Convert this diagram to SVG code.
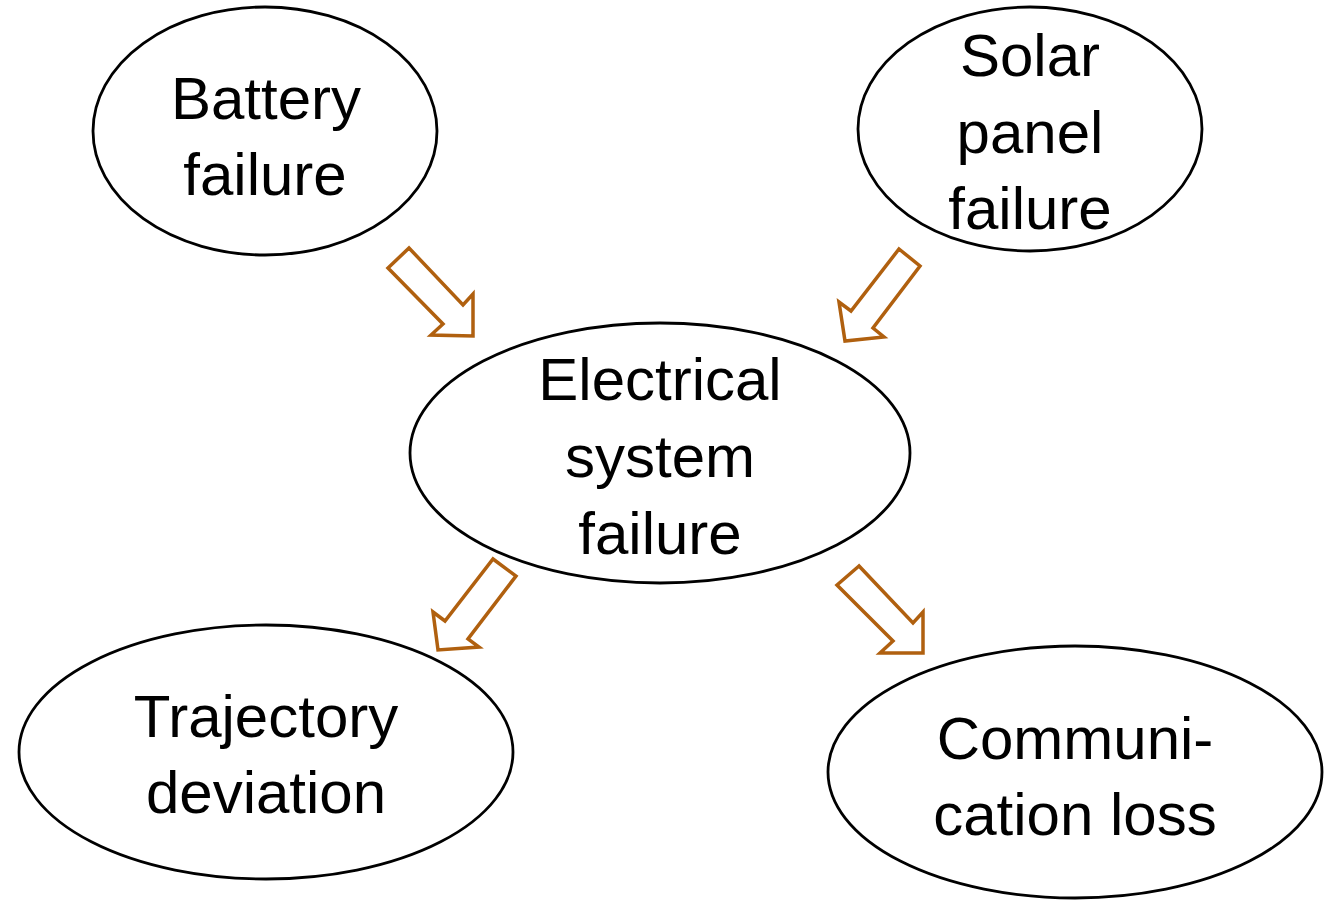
<svg xmlns="http://www.w3.org/2000/svg" width="1327" height="900" viewBox="0 0 1327 900">
<style>
.node ellipse{fill:#fff;stroke:#000;stroke-width:2.8}
.node text{font-family:"Liberation Sans",Arial,sans-serif;font-size:60px;fill:#000;text-anchor:middle}
.arrow{fill:#fff;stroke:#B0600F;stroke-width:3.5;stroke-linejoin:miter}
</style>
<rect width="1327" height="900" fill="#fff"/>
<g id="battery" class="node">
<ellipse cx="265" cy="131" rx="172" ry="124"/>
<text x="266" y="119">Battery</text>
<text x="265" y="195">failure</text>
</g>
<g id="solar" class="node">
<ellipse cx="1030" cy="129" rx="172" ry="122"/>
<text x="1030" y="76">Solar</text>
<text x="1030" y="153">panel</text>
<text x="1030" y="229">failure</text>
</g>
<g id="electrical" class="node">
<ellipse cx="660" cy="453" rx="250" ry="130"/>
<text x="660" y="400">Electrical</text>
<text x="660" y="477">system</text>
<text x="660" y="554">failure</text>
</g>
<g id="trajectory" class="node">
<ellipse cx="266" cy="752" rx="247" ry="127"/>
<text x="266" y="737">Trajectory</text>
<text x="266" y="813">deviation</text>
</g>
<g id="communication" class="node">
<ellipse cx="1075" cy="772" rx="247" ry="126"/>
<text x="1075" y="759">Communi-</text>
<text x="1075" y="835">cation loss</text>
</g>
<g id="connectors">
<polygon class="arrow" points="409,248 388,268 443,324 431,335 473,336 473,294 463,305"/>
<polygon class="arrow" points="899,249 920,266 873,328 884,337 845,341 839,302 851,311"/>
<polygon class="arrow" points="493,559 516,576 468,639 479,647 438,650 433,612 445,621"/>
<polygon class="arrow" points="859,566 837,585 893,641 880,653 923,653 923,612 913,623"/>
</g>
</svg>
